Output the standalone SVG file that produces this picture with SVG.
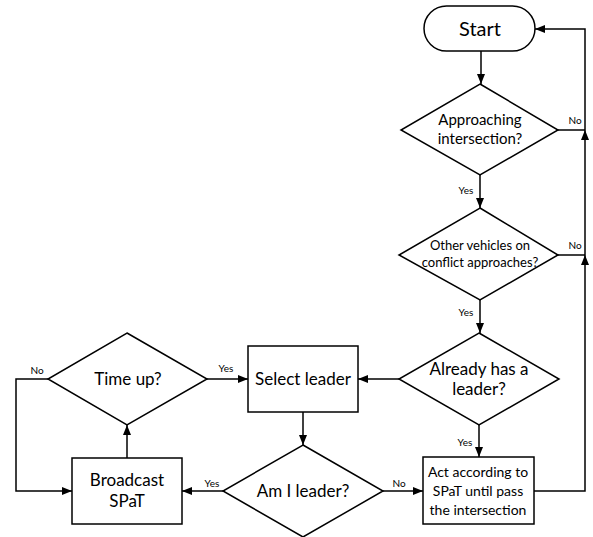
<svg xmlns="http://www.w3.org/2000/svg" width="593" height="537" viewBox="0 0 593 537">
<style>
.s{fill:#fff;stroke:#000;stroke-width:1.5}
.c{fill:none;stroke:#000;stroke-width:1.5}
text{font-family:Lato,"Liberation Sans",sans-serif;fill:#000;text-anchor:middle}
.t{font-size:15px}
.a{font-size:14px}
.l{font-size:10px}
</style>
<defs>
<marker id="a" markerWidth="10" markerHeight="8" refX="10" refY="4" orient="auto" markerUnits="userSpaceOnUse">
<path d="M0,0 L10,4 L0,8 Z" fill="#000"/>
</marker>
</defs>
<g id="connectors">
<path class="c" d="M481,51 V84" marker-end="url(#a)"/>
<path class="c" d="M480,175 V208" marker-end="url(#a)"/>
<path class="c" d="M480,300 V333" marker-end="url(#a)"/>
<path class="c" d="M399,379 H358" marker-end="url(#a)"/>
<path class="c" d="M479,425 V457" marker-end="url(#a)"/>
<path class="c" d="M207,379 H248" marker-end="url(#a)"/>
<path class="c" d="M303,412 V445" marker-end="url(#a)"/>
<path class="c" d="M223,491 H182" marker-end="url(#a)"/>
<path class="c" d="M383,491 H423" marker-end="url(#a)"/>
<path class="c" d="M127,458 V425" marker-end="url(#a)"/>
<path class="c" d="M48,379 H16 V491 H72" marker-end="url(#a)"/>
<path class="c" d="M534,491 H585 V255" marker-end="url(#a)"/>
<path class="c" d="M585,255 V130" marker-end="url(#a)"/>
<path class="c" d="M585,130 V29 H535" marker-end="url(#a)"/>
<path class="c" d="M558,130 H585"/>
<path class="c" d="M558,255 H585"/>
<text class="l" x="575" y="124">No</text>
<text class="l" x="575" y="249">No</text>
<text class="l" x="466" y="194">Yes</text>
<text class="l" x="466" y="316">Yes</text>
<text class="l" x="465" y="446">Yes</text>
<text class="l" x="226" y="372">Yes</text>
<text class="l" x="37" y="374">No</text>
<text class="l" x="212" y="487">Yes</text>
<text class="l" x="399" y="487">No</text>
</g>
<g id="start">
<rect class="s" x="424" y="6" width="111" height="45" rx="22.5"/>
<text x="480" y="36" style="font-size:20px">Start</text>
</g>
<g id="approaching">
<path class="s" d="M480,84 L558,130 L480,175 L401,130 Z"/>
<text class="t" x="480" y="125">Approaching</text>
<text class="t" x="480" y="144">intersection?</text>
</g>
<g id="other">
<path class="s" d="M480,208 L558,255 L480,300 L399,255 Z"/>
<text x="480" y="250" style="font-size:13px">Other vehicles on</text>
<text x="480" y="267" style="font-size:13px">conflict approaches?</text>
</g>
<g id="already">
<path class="s" d="M479,333 L559,379 L479,425 L399,379 Z"/>
<text x="479" y="375" style="font-size:17px">Already has a</text>
<text x="479" y="395" style="font-size:17px">leader?</text>
</g>
<g id="select">
<rect class="s" x="248" y="346" width="110" height="66"/>
<text x="303" y="385" style="font-size:17px">Select leader</text>
</g>
<g id="timeup">
<path class="s" d="M127,333 L207,379 L127,425 L48,379 Z"/>
<text x="128" y="385" style="font-size:17px">Time up?</text>
</g>
<g id="broadcast">
<rect class="s" x="72" y="458" width="110" height="66"/>
<text x="127" y="486" style="font-size:17px">Broadcast</text>
<text x="127" y="507" style="font-size:17px">SPaT</text>
</g>
<g id="amileader">
<path class="s" d="M303,445 L383,491 L303,537 L223,491 Z"/>
<text x="303" y="497" style="font-size:17px">Am I leader?</text>
</g>
<g id="act">
<rect class="s" x="423" y="457" width="111" height="67"/>
<text class="a" x="478" y="477">Act according to</text>
<text class="a" x="478" y="496">SPaT until pass</text>
<text class="a" x="478" y="515">the intersection</text>
</g>
</svg>
